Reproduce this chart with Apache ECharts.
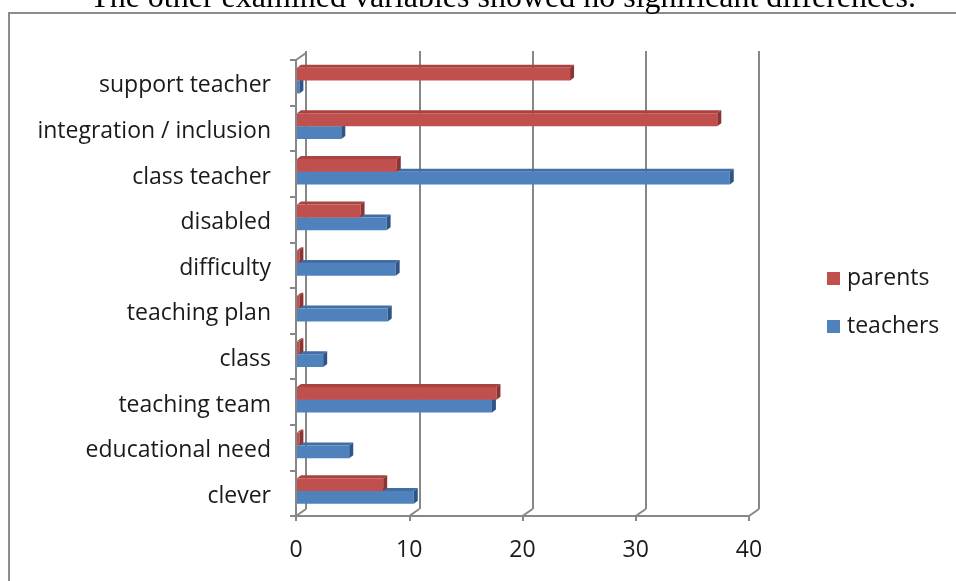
<!DOCTYPE html>
<html><head><meta charset="utf-8">
<script src="https://cdn.jsdelivr.net/npm/echarts@6/dist/echarts.min.js"></script>
<style>html,body{margin:0;padding:0;background:#fff}#c{width:956px;height:581px}</style>
</head><body><div id="c"></div>
<script>
const categories = ['clever','educational need','teaching team','class','teaching plan','difficulty','disabled','class teacher','integration / inclusion','support teacher'];
const parents  = [7.7, 0.3, 17.7, 0.3, 0.3, 0.3, 5.7, 8.9, 37.2, 24.2];
const teachers = [10.4, 4.7, 17.3, 2.4, 8.1, 8.8, 8.0, 38.3, 4.0, 0.3];
const xTicks = [0, 10, 20, 30, 40];
const seriesNames = ['parents', 'teachers'];
const titleText = 'The other examined variables showed no significant differences.';

const FONT = '"Open Sans"';
const FS = 23;
const GRAY = '#878787';
const DX = 10, DY = 7;

const palette = {
  parents:  {front:'#C0504D', top:'#A9433F', side:'#8A3532'},
  teachers: {front:'#4F81BD', top:'#416EA6', side:'#2F5485'}
};

function barRenderer(kind){
  const c = palette[kind];
  return function(params, api){
    const val = api.value(0), cat = api.value(1);
    const s = api.coord([0, cat]);
    const e = api.coord([val, cat]);
    const band = api.size([0, 1])[1];
    const k = band / 45.5;
    const h = 12.8 * k;
    const top = kind === 'parents' ? s[1] - 15 * k : s[1] - 2.2 * k;
    const bot = top + h;
    const x0 = s[0] + 1, x1 = e[0];
    const dx = 4, dy = 3;
    return {type:'group', children:[
      {type:'polygon', shape:{points:[[x0,top],[x1,top],[x1+dx,top-dy],[x0+dx,top-dy]]}, style:{fill:c.top}},
      {type:'rect', shape:{x:x0, y:top, width:Math.max(x1-x0,0), height:h}, style:{fill:c.front}},
      {type:'polygon', shape:{points:[[x1,top],[x1+dx,top-dy],[x1+dx,bot-dy],[x1,bot]]}, style:{fill:c.side}}
    ]};
  };
}

function diagRenderer(params, api){
  const p = api.coord([api.value(0), 0]);
  const cs = params.coordSys;
  const yb = cs.y + cs.height;
  const children = [{type:'line', shape:{x1:p[0], y1:yb, x2:p[0]+DX, y2:yb-DY}, style:{stroke:GRAY, lineWidth:2}}];
  if (api.value(0) === 0) {
    children.push({type:'line', shape:{x1:p[0], y1:cs.y, x2:p[0]+DX, y2:cs.y-DY}, style:{stroke:GRAY, lineWidth:2}});
  }
  return {type:'group', children};
}

const chart = echarts.init(document.getElementById('c'), null, {renderer:'canvas'});
chart.setOption({
  animation:false,
  backgroundColor:'#fff',
  graphic:[
    {type:'rect', z:-10, shape:{x:9, y:13, width:1000, height:700}, style:{fill:'none', stroke:'#8c8c8c', lineWidth:2}},
    {type:'text', x:503, y:15, style:{text:titleText, font:'32px "Liberation Serif"', fill:'#000', align:'center', verticalAlign:'bottom'}}
  ],
  legend:{
    orient:'vertical', left:822, top:262, itemWidth:13, itemHeight:13, itemGap:25,
    data:[{name:'parents', icon:'rect'},{name:'teachers', icon:'rect'}],
    textStyle:{fontFamily:FONT, fontSize:FS, color:'#1a1a1a', padding:[0,0,0,2]}
  },
  grid:[
    {left:296, right:207, top:60, bottom:65},
    {left:306, right:197, top:51, bottom:72}
  ],
  xAxis:[
    {type:'value', gridIndex:0, min:0, max:40, interval:10,
     axisLine:{show:true, lineStyle:{color:GRAY, width:2}},
     axisTick:{show:true, length:5, lineStyle:{color:GRAY, width:2}},
     splitLine:{show:false},
     axisLabel:{margin:23, fontFamily:FONT, fontSize:FS, color:'#1a1a1a', formatter:(v)=>String(xTicks[xTicks.indexOf(v)])}},
    {type:'value', gridIndex:1, min:0, max:40, interval:10,
     axisLine:{show:false}, axisTick:{show:false}, axisLabel:{show:false},
     splitLine:{show:true, lineStyle:{color:GRAY, width:2}}}
  ],
  yAxis:[
    {type:'category', gridIndex:0, data:categories,
     axisLine:{show:true, lineStyle:{color:GRAY, width:2}},
     axisTick:{show:true, length:6, lineStyle:{color:GRAY, width:2}},
     axisLabel:{margin:25, formatter:(v)=>'{a|' + v + '}',
       rich:{a:{fontFamily:FONT, fontSize:FS, color:'#1a1a1a', padding:[6,0,0,0]}}}},
    {type:'category', gridIndex:1, data:categories, show:false}
  ],
  series:[
    {name:'diag', type:'custom', xAxisIndex:0, yAxisIndex:0, silent:true,
     data:xTicks.map(v=>[v, 0]), renderItem:diagRenderer, z:1},
    {name:'teachers', type:'custom', xAxisIndex:0, yAxisIndex:0, z:3,
     itemStyle:{color:palette.teachers.front},
     encode:{x:0, y:1},
     data:teachers.map((v,i)=>[v,i]), renderItem:barRenderer('teachers')},
    {name:'parents', type:'custom', xAxisIndex:0, yAxisIndex:0, z:4,
     itemStyle:{color:palette.parents.front},
     encode:{x:0, y:1},
     data:parents.map((v,i)=>[v,i]), renderItem:barRenderer('parents')}
  ]
});
</script></body></html>
